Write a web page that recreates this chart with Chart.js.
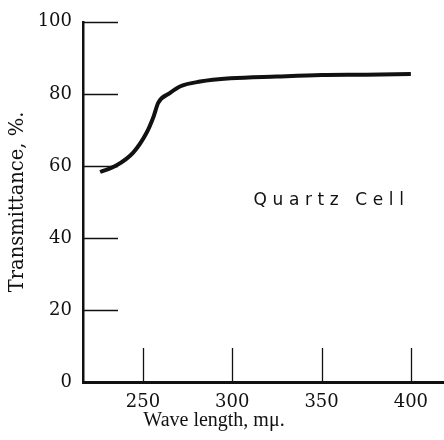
<!DOCTYPE html>
<html>
<head>
<meta charset="utf-8">
<script src="https://cdn.jsdelivr.net/npm/chart.js@4.4.1/dist/chart.umd.min.js"></script>
<style>
  html, body { margin: 0; padding: 0; background: #fff; }
  #wrap { width: 444px; height: 440px; }
</style>
</head>
<body>
<div id="wrap"><canvas id="chart" width="444" height="440"></canvas></div>
<script>
// ---- data ----
const waveLength = [226, 235, 244.5, 252, 256, 258.5, 265, 271, 282, 299, 325, 350, 375, 400];
const transmittance = [58.3, 60.1, 63.7, 69.2, 73.8, 77.5, 80.2, 82.1, 83.4, 84.3, 84.8, 85.2, 85.3, 85.5];
const xTicks = [250, 300, 350, 400];
const yTicks = [0, 20, 40, 60, 80, 100];
const curveLabel = { text: "Quartz Cell", x: 354, y: 50.3 };

const INK = "#111";
const SERIF = "'DejaVu Serif', serif";

// tick marks drawn inward from the axes, plus the free-standing texts
const innerTicks = {
    id: "innerTicks",
    afterDatasetsDraw(chart) {
        const { ctx, scales: { x, y }, chartArea: a } = chart;
        ctx.save();
        ctx.strokeStyle = INK;
        ctx.lineWidth = 1.3;
        xTicks.forEach((v) => {
            const px = Math.round(x.getPixelForValue(v)) + 0.5;
            ctx.beginPath();
            ctx.moveTo(px, a.bottom);
            ctx.lineTo(px, a.bottom - 34);
            ctx.stroke();
        });
        yTicks.forEach((v) => {
            if (v === 0) return;
            const py = Math.round(y.getPixelForValue(v)) + 0.5;
            ctx.beginPath();
            ctx.moveTo(a.left, py);
            ctx.lineTo(a.left + 35, py);
            ctx.stroke();
        });

        // "Quartz Cell", spaced lettering
        ctx.fillStyle = INK;
        ctx.font = "17px 'DejaVu Sans', sans-serif";
        ctx.textBaseline = "middle";
        const gap = 5.6;
        const chars = [...curveLabel.text];
        const total = chars.reduce((s, c) => s + ctx.measureText(c).width, 0) + gap * (chars.length - 1);
        let cx = x.getPixelForValue(curveLabel.x) - total / 2;
        const cy = y.getPixelForValue(curveLabel.y);
        chars.forEach((c) => {
            ctx.fillText(c, cx, cy);
            cx += ctx.measureText(c).width + gap;
        });

        // x title sits left of the plot centre in the original
        ctx.font = "20px 'Liberation Serif', serif";
        ctx.textAlign = "center";
        ctx.fillText("Wave length, m\u03BC.", 214, 421);
        ctx.restore();
    }
};

new Chart(document.getElementById("chart"), {
    type: "line",
    data: {
        datasets: [{
            data: waveLength.map((w, i) => ({ x: w, y: transmittance[i] })),
            borderColor: INK,
            borderWidth: 4,
            pointRadius: 0,
            cubicInterpolationMode: "monotone",
            fill: false
        }]
    },
    options: {
        responsive: false,
        animation: false,
        devicePixelRatio: 1,
        layout: { padding: { top: 18, right: 1, left: 0, bottom: 0 } },
        plugins: { legend: { display: false }, tooltip: { enabled: false } },
        scales: {
            x: {
                type: "linear",
                min: 216.4,
                max: 418,
                afterBuildTicks: (s) => { s.ticks = xTicks.map((v) => ({ value: v })); },
                afterFit: (s) => { s.height = 58; },
                grid: { display: true, drawOnChartArea: false, drawTicks: false },
                border: { display: true, width: 3, color: INK },
                ticks: { color: INK, font: { family: SERIF, size: 18 }, padding: 10, maxRotation: 0 }
            },
            y: {
                min: 0,
                max: 100,
                afterBuildTicks: (s) => { s.ticks = yTicks.map((v) => ({ value: v })); },
                afterFit: (s) => { s.width = 83; },
                grid: { display: true, drawOnChartArea: false, drawTicks: false },
                border: { display: true, width: 2.5, color: INK },
                ticks: { color: INK, font: { family: SERIF, size: 18 }, padding: 11 },
                title: {
                    display: true,
                    text: "Transmittance, %.",
                    color: INK,
                    font: { family: SERIF, size: 19.5 },
                    padding: { top: 6, bottom: 0 }
                }
            }
        }
    },
    plugins: [innerTicks]
});
</script>
</body>
</html>
